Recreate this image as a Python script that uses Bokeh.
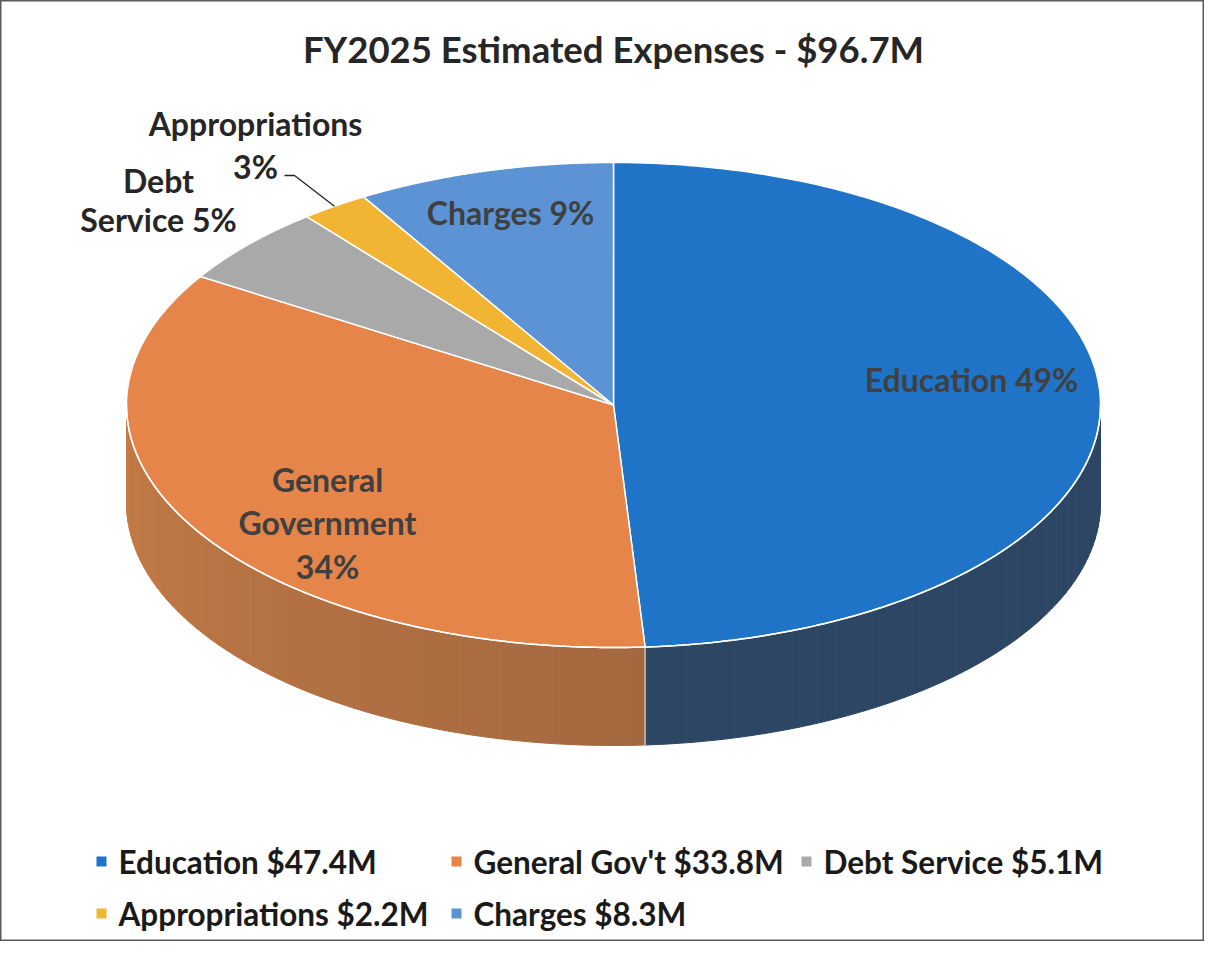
import numpy as np
from bokeh.plotting import figure
from bokeh.models import Range1d
from bokeh.embed import file_html
from bokeh.resources import INLINE
from bokeh.core.properties import value

# ---------------- data ----------------
categories = ["Education", "General Government", "Debt Service", "Appropriations", "Charges"]
amounts = [47.4, 33.8, 5.1, 2.2, 8.3]          # $M
percents = [49, 34, 5, 3, 9]
legend_labels = ["Education $47.4M", "General Gov't $33.8M", "Debt Service $5.1M",
                 "Appropriations $2.2M", "Charges $8.3M"]
title_text = "FY2025 Estimated Expenses - $96.7M"

# ---------------- style ----------------
top_colors = ["#1F74C8", "#E5854A", "#A9A9A9", "#F1B533", "#5B93D4"]
side_light = ["#2E4A68", "#C47B46", "#8A8A8A", "#C99A30", "#4A78AE"]
side_dark = ["#2A4360", "#86573A", "#6F6F6F", "#A07A25", "#3B6290"]
FONT = value("Lato")

W, H = 1204, 941
p = figure(width=W, height=H, output_backend="svg", toolbar_location=None,
           x_range=Range1d(0, W), y_range=Range1d(H, 0),
           min_border=0)
p.axis.visible = False
p.grid.visible = False
p.outline_line_color = "#5a5a5a"
p.outline_line_width = 2
p.background_fill_color = "white"
p.border_fill_color = "white"

# pie geometry (layout)
cx, cy, rx, ry, depth = 613, 404.5, 487, 242.5, 98

total = sum(amounts)
fr = np.cumsum([0] + amounts) / total
starts = fr[:-1] * 2 * np.pi
ends = fr[1:] * 2 * np.pi


def pt(theta, dy=0.0):
    return cx + rx * np.sin(theta), cy - ry * np.cos(theta) + dy


def hex2rgb(h):
    h = h.lstrip("#")
    return np.array([int(h[i:i + 2], 16) for i in (0, 2, 4)], dtype=float)


def rgb2hex(c):
    return "#%02x%02x%02x" % tuple(int(round(v)) for v in c)


# ---- side walls (front half only: theta in [pi/2, 3pi/2]) ----
sxs, sys, scol = [], [], []
for i in range(len(amounts)):
    a0 = max(starts[i], np.pi / 2)
    a1 = min(ends[i], 3 * np.pi / 2)
    if a1 <= a0:
        continue
    n = 60
    th = np.linspace(a0, a1, n + 1)
    c_hi = hex2rgb(side_light[i])
    c_lo = hex2rgb(side_dark[i])
    for k in range(n):
        t0, t1 = th[k], th[k + 1]
        x0, y0 = pt(t0)
        x1, y1 = pt(t1)
        sxs.append([x0, x1, x1, x0])
        sys.append([y0, y1, y1 + depth, y0 + depth])
        s = ((t0 + t1) / 2 - np.pi / 2) / np.pi
        col = c_lo + (c_hi - c_lo) * s if i == 1 else c_lo + (c_hi - c_lo) * 0.5
        scol.append(rgb2hex(col))
p.patches(sxs, sys, fill_color=scol, line_color=scol, line_width=1)

# separation line on the side at the Education / General Government boundary
bx, by = pt(ends[0])
p.line([bx, bx], [by, by + depth], line_color="#d8d8d8", line_width=1.2)

# ---- top slices ----
txs, tys = [], []
for i in range(len(amounts)):
    th = np.linspace(starts[i], ends[i], 200)
    x, y = pt(th)
    txs.append([cx] + list(x))
    tys.append([cy] + list(y))
p.patches(txs, tys, fill_color=top_colors, line_color="white", line_width=1.5)

# white rim on front edge
th = np.linspace(np.pi / 2, 3 * np.pi / 2, 300)
rx_, ry_ = pt(th)
p.line(list(rx_), list(ry_), line_color="white", line_width=1.5)

# ---- data labels ----
lab_dark = "#404040"
lab_out = "#262626"
LS = "32px"
inside = [
    (["Education " + f"{percents[0]}%"], 971, [379]),
    (["General", "Government", f"{percents[1]}%"], 327, [479, 522, 566]),
    ([f"{categories[4]} {percents[4]}%"], 510, [212]),
]
for lines, x, ys in inside:
    p.text(x=[x] * len(lines), y=ys, text=lines, text_font=FONT, text_font_style="bold",
           text_font_size=LS, text_color=lab_dark, text_align="center", text_baseline="middle")

outside = [
    (["Debt", "Service " + f"{percents[2]}%"], 158, [180, 219]),
    (["Appropriations", f"{percents[3]}%"], 255, [123, 166]),
]
for lines, x, ys in outside:
    p.text(x=[x] * len(lines), y=ys, text=lines, text_font=FONT, text_font_style="bold",
           text_font_size=LS, text_color=lab_out, text_align="center", text_baseline="middle")

# leader line for Appropriations
mid = (starts[3] + ends[3]) / 2
ex, ey = pt(mid)
p.line([284, 294, ex], [175, 175, ey], line_color="#262626", line_width=1.3)

# ---- title ----
p.text(x=[613], y=[48], text=[title_text], text_font=FONT, text_font_style="bold",
       text_font_size="36.5px", text_color="#262626", text_align="center", text_baseline="middle")

# ---- legend ----
leg_pos = [(101, 861), (456, 861), (806, 861), (101, 913), (456, 913)]
for (lx, ly), lab, col in zip(leg_pos, legend_labels, top_colors):
    p.rect(x=[lx], y=[ly], width=10, height=10, fill_color=col, line_color=None)
    p.text(x=[lx + 17], y=[ly], text=[lab], text_font=FONT, text_font_style="bold",
           text_font_size="31.5px", text_color="#1a1a1a", text_align="left", text_baseline="middle")

open("out.html", "w").write(file_html(p, INLINE))
